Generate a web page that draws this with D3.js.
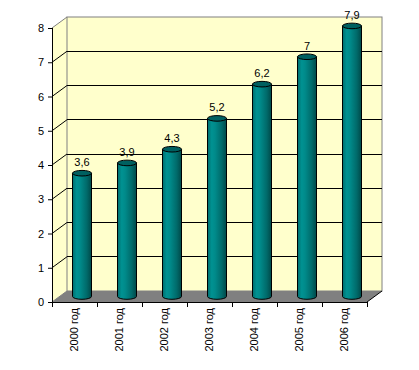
<!DOCTYPE html>
<html>
<head>
<meta charset="utf-8">
<script src="https://cdn.jsdelivr.net/npm/d3@7"></script>
<style>
  body { margin: 0; background: #fff; }
  text { font-family: Arial, "Liberation Sans", sans-serif; font-size: 11px; fill: #000; }
</style>
</head>
<body>
<div id="chart-area"></div>
<script>
var years = ["2000 год", "2001 год", "2002 год", "2003 год", "2004 год", "2005 год", "2006 год"];
var values = [3.6, 3.9, 4.3, 5.2, 6.2, 7, 7.9];
var yTicks = [0, 1, 2, 3, 4, 5, 6, 7, 8];

var width = 419, height = 370;
var depth = {x: 15, y: -11};   // 3d offset of the back wall

var svg = d3.select("#chart-area").append("svg")
    .attr("width", width)
    .attr("height", height);

var x = d3.scaleBand()
    .domain(years)
    .range([52, 367]);

var y = d3.scaleLinear()
    .domain([0, 8])
    .range([302, 28]);

// cylinder shading
var grad = svg.append("defs").append("linearGradient")
    .attr("id", "cyl")
    .attr("x1", "0%").attr("x2", "100%");
[["0%", "#006e6e"], ["22%", "#009292"], ["40%", "#008a8a"], ["75%", "#006a6a"], ["100%", "#004848"]]
    .forEach(s => grad.append("stop").attr("offset", s[0]).attr("stop-color", s[1]));

var x0 = x.range()[0], x1 = x.range()[1];
var yTop = y(8), y0 = y(0);

// left side wall
svg.append("polygon")
    .attr("points", [[x0, yTop], [x0 + depth.x, yTop + depth.y], [x0 + depth.x, y0 + depth.y], [x0, y0]].join(" "))
    .attr("fill", "#ffffcc");

// back wall
svg.append("rect")
    .attr("x", x0 + depth.x)
    .attr("y", yTop + depth.y)
    .attr("width", x1 - x0)
    .attr("height", y0 - yTop)
    .attr("fill", "#ffffcc")
    .attr("stroke", "#808080");

// floor
svg.append("polygon")
    .attr("points", [[x0, y0], [x0 + depth.x, y0 + depth.y], [x1 + depth.x, y0 + depth.y], [x1, y0]].join(" "))
    .attr("fill", "#808080");

// grid lines: back wall + side wall
var grid = yTicks.filter(d => d > 0 && d < 8);
svg.selectAll(".gridb").data(grid).enter().append("line")
    .attr("x1", x0 + depth.x).attr("x2", x1 + depth.x)
    .attr("y1", d => y(d) + depth.y).attr("y2", d => y(d) + depth.y)
    .attr("stroke", "#000").attr("shape-rendering", "crispEdges");
svg.selectAll(".grids").data(grid).enter().append("line")
    .attr("x1", x0).attr("x2", x0 + depth.x)
    .attr("y1", d => y(d)).attr("y2", d => y(d) + depth.y)
    .attr("stroke", "#000");

// top edge of side wall
svg.append("line")
    .attr("x1", x0).attr("y1", yTop)
    .attr("x2", x0 + depth.x).attr("y2", yTop + depth.y)
    .attr("stroke", "#808080");
// floor edges
svg.append("line")
    .attr("x1", x0).attr("y1", y0)
    .attr("x2", x0 + depth.x).attr("y2", y0 + depth.y)
    .attr("stroke", "#808080");
svg.append("line")
    .attr("x1", x1).attr("y1", y0)
    .attr("x2", x1 + depth.x).attr("y2", y0 + depth.y)
    .attr("stroke", "#000");

// cylinders
var rx = 9.5, ry = 2.8;
var bars = svg.selectAll(".bar").data(values).enter().append("g");
bars.each(function(v, i) {
    var g = d3.select(this);
    var cx = x(years[i]) + x.bandwidth() / 2 + depth.x / 2;
    var yt = y(v) + depth.y / 2;
    var yb = y(0) + depth.y / 2;
    g.append("path")
        .attr("d", "M" + (cx - rx) + "," + yt + " L" + (cx - rx) + "," + yb +
            " A" + rx + "," + ry + " 0 0 0 " + (cx + rx) + "," + yb +
            " L" + (cx + rx) + "," + yt + " Z")
        .attr("fill", "url(#cyl)")
        .attr("stroke", "#000");
    g.append("ellipse")
        .attr("cx", cx).attr("cy", yt)
        .attr("rx", rx).attr("ry", ry)
        .attr("fill", "#006060")
        .attr("stroke", "#000");
    g.append("text")
        .attr("x", cx)
        .attr("y", yt - 7)
        .attr("text-anchor", "middle")
        .text(String(v).replace(".", ","));
});

// y axis
var yAxis = d3.axisLeft(y)
    .tickValues(yTicks)
    .tickSize(4)
    .tickPadding(4)
    .tickFormat(d3.format("d"));
var ya = svg.append("g")
    .attr("transform", "translate(" + x0 + ",0)")
    .call(yAxis);
ya.select(".domain").attr("stroke", "#000").attr("d", "M0.5," + yTop + "V" + y0);
ya.selectAll("text").style("font-size", "11px").attr("fill", "#000");

// x axis
var xAxis = d3.axisBottom(x).tickSize(0).tickPadding(0);
var xa = svg.append("g")
    .attr("transform", "translate(0," + y0 + ")")
    .call(xAxis);
xa.select(".domain").attr("d", "M" + x0 + ",0.5H" + x1);
xa.selectAll(".tick line").remove();
xa.selectAll("text")
    .style("font-size", "11px")
    .attr("fill", "#000")
    .attr("transform", "rotate(-90)")
    .attr("x", -6)
    .attr("y", 0)
    .attr("dy", "0.35em")
    .attr("text-anchor", "end");
// category boundary ticks
var bounds = years.map(d => x(d)).concat([x1]);
xa.selectAll(".btick").data(bounds).enter().append("line")
    .attr("x1", d => d + 0.5).attr("x2", d => d + 0.5)
    .attr("y1", 0).attr("y2", 5)
    .attr("stroke", "#000");
</script>
</body>
</html>
